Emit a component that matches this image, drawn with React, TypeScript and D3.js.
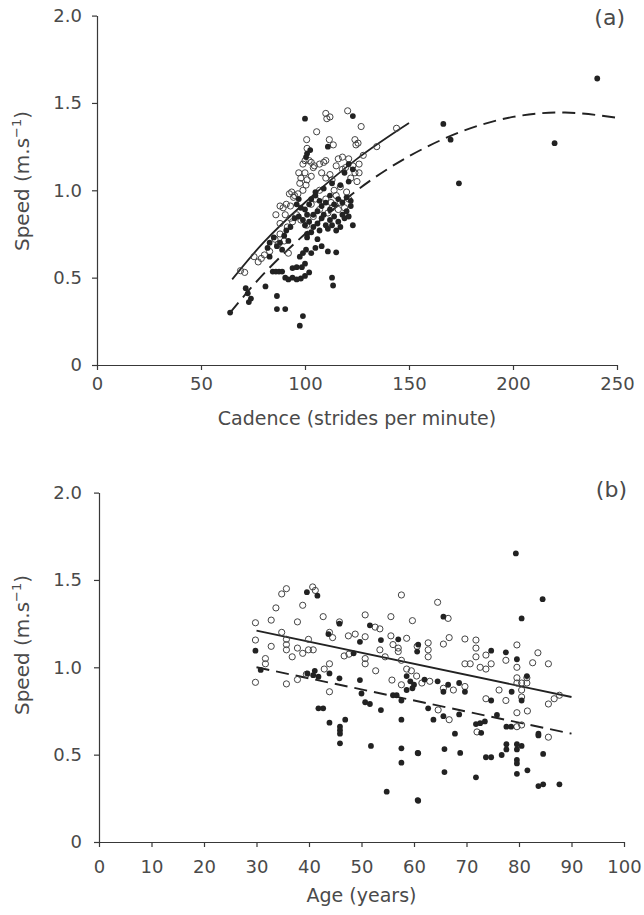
import React, { useEffect, useRef } from 'react';
import * as d3 from 'd3';

// tick values
const cadenceTicks = [0, 50, 100, 150, 200, 250];
const ageTicks = [0, 10, 20, 30, 40, 50, 60, 70, 80, 90, 100];
const speedTicks = [0, 0.5, 1.0, 1.5, 2.0];

// panel (a) points: [cadence, speed]
const cadenceOpen: [number, number][] = [
  [110, 1.44], [112, 1.42], [110.5, 1.41], [120.5, 1.455], [127, 1.365], [105.6, 1.335], [144, 1.355],
  [100.8, 1.29], [111.7, 1.29], [113.6, 1.26], [124, 1.29], [125.5, 1.27], [124.5, 1.26], [134.5, 1.25], [128, 1.2],
  [101, 1.24], [100, 1.17], [103, 1.16], [104, 1.13], [99, 1.15], [102, 1.17], [104.5, 1.14], [107, 1.15], [109, 1.16], [110, 1.17],
  [97, 1.1], [100, 1.1], [98, 1.07], [101, 1.06], [97.5, 1.04], [100.5, 1.03], [99, 1.0], [103, 1.08],
  [108, 1.1], [110, 1.07], [112, 1.09], [113, 1.06], [115, 1.14], [118, 1.12], [119.5, 1.13], [123, 1.14], [124, 1.1],
  [122, 1.07], [125, 1.05], [126, 1.15], [126, 1.1], [116, 1.18], [118, 1.19], [121, 1.18],
  [93.6, 0.99], [95, 0.97], [96.6, 0.98], [94.5, 0.96], [92.5, 0.98],
  [88, 0.91], [89.5, 0.9], [91, 0.92], [93, 0.91], [86, 0.86], [90.5, 0.86], [93, 0.84], [88, 0.81], [91.5, 0.79], [94, 0.82], [100.8, 0.8],
  [85.6, 0.72], [88, 0.75], [90, 0.71], [87, 0.69], [83, 0.65], [79, 0.61], [80.5, 0.63], [77.5, 0.59], [75.5, 0.62], [71, 0.53], [69, 0.54], [92, 0.64],
  [110, 0.95], [112.5, 0.93], [115, 0.97], [114, 1.0], [117, 0.93], [116, 0.89], [113, 0.9], [111, 0.87], [107, 0.89], [104, 0.85],
  [117, 1.02], [120, 0.99], [121, 0.95], [119, 0.9], [105, 0.95], [107, 1.0], [96, 0.86], [98, 0.83], [103, 0.92],
];

const cadenceFilled: [number, number][] = [
  [240.5, 1.64], [166.5, 1.38], [170, 1.29], [174, 1.04], [220, 1.27],
  [100, 1.41], [123, 1.425], [111, 1.25], [102.5, 1.23], [101, 1.21], [100.5, 1.19], [121, 1.15], [122, 0.94], [123, 0.8],
  [64, 0.3], [71.5, 0.44], [72.5, 0.41], [74, 0.38], [73, 0.36], [81, 0.45], [86.5, 0.395], [86.5, 0.32], [90.5, 0.32],
  [99, 0.28], [97.5, 0.225], [113, 0.5], [113.5, 0.455],
  [83, 0.62], [84.5, 0.535], [86, 0.535], [87.5, 0.535], [89, 0.535], [90.5, 0.5], [92, 0.49], [94, 0.5], [96, 0.49],
  [98, 0.495], [100, 0.51], [102, 0.53], [94, 0.555], [96, 0.56], [98.5, 0.56], [100, 0.58],
  [82, 0.67], [83, 0.7], [85, 0.73], [86.5, 0.68], [88, 0.7], [90, 0.74], [91, 0.77], [93, 0.79], [89, 0.66], [92, 0.71],
  [97.5, 0.62], [99, 0.64], [100.5, 0.66], [103, 0.64], [105, 0.67], [106, 0.72], [108, 0.68], [111, 0.65], [115, 0.645], [101, 0.73], [101, 0.75],
  [100, 0.8], [102, 0.82], [104, 0.79], [106, 0.81], [108, 0.84], [110, 0.8], [112, 0.83], [114, 0.85], [116, 0.82], [118, 0.86],
  [120, 0.88], [104, 0.86], [106, 0.88], [108, 0.91], [110, 0.93], [112, 0.89], [114, 0.92], [116, 0.95], [118, 0.93], [120, 0.96],
  [122, 0.91], [100, 0.89], [102, 0.92], [98, 0.9], [96, 0.92], [97, 0.95], [103, 0.95], [105, 0.97], [107, 0.94], [109, 0.86],
  [111, 0.78], [113, 0.8], [115, 0.77], [117, 0.79], [119, 0.84], [121, 0.85], [103, 0.76], [107, 0.77], [95, 0.84], [97, 0.85],
  [99, 0.83], [101, 0.86], [105, 0.99], [112, 0.97], [117, 1.03], [121, 1.05], [119, 1.1], [123, 1.12], [113, 1.04], [109, 1.01],
];

// fitted curves
const cadenceFitSolid: [number, number][] = [[65, 0.49], [80, 0.7], [100, 0.93], [125, 1.18], [150, 1.385]];
const cadenceFitDashed: [number, number][] = [
  [64, 0.3], [80, 0.52], [100, 0.75], [125, 1.0], [150, 1.195], [175, 1.335], [200, 1.42], [225, 1.445], [250, 1.415],
];

// panel (b) points: [age, speed]
const ageOpen: [number, number][] = [
  [29.8, 1.255], [29.8, 1.156], [29.8, 0.914], [31.7, 1.05], [31.7, 1.02], [32.8, 1.27], [32.8, 1.12], [33.7, 1.34],
  [34.8, 1.42], [35.7, 1.45], [34.8, 1.2], [35.7, 1.16], [35.7, 1.13], [35.7, 1.1], [35.7, 0.905], [36.8, 1.06],
  [37.8, 1.26], [37.8, 1.11], [38.8, 1.355], [38.8, 1.08], [39.9, 1.1], [40.8, 1.1], [39.9, 1.16], [40.7, 1.46],
  [41.2, 1.44], [37.8, 0.93], [39.5, 0.96], [42.7, 1.29], [43.9, 1.2], [43.9, 1.02], [42.9, 0.99], [43.9, 0.86],
  [45.8, 1.26], [46.7, 1.065], [47.6, 1.075], [48.8, 1.19], [50.7, 1.3], [50.7, 1.175], [50.7, 1.05], [50.7, 1.02],
  [52.6, 1.23], [53.5, 1.22], [52.7, 0.98], [55.6, 1.29], [55.6, 1.18], [56, 1.13], [57, 1.11], [57, 1.09],
  [55.8, 0.927], [57.6, 1.414], [57.6, 0.9], [57.6, 1.04], [58.6, 0.99], [58.6, 1.166], [59.7, 1.267], [60.6, 1.12],
  [62.7, 1.14], [62.7, 1.1], [62.7, 1.06], [64.5, 1.372], [66.5, 1.28], [65.6, 1.133], [66.7, 1.17], [69.7, 1.162],
  [71.8, 1.156], [71.8, 1.11], [71.8, 1.06], [69.7, 1.02], [70.7, 1.02], [72.6, 1.0], [73.7, 0.99], [73.7, 1.07],
  [74.7, 1.02], [77.5, 1.04], [79.6, 1.128], [79.6, 1.0], [79.6, 0.94], [81.5, 0.94], [79.6, 0.91], [80.5, 0.91],
  [81.5, 0.91], [80.5, 0.87], [80.5, 0.83], [82.6, 1.026], [83.6, 1.083], [85.6, 1.02], [85.6, 0.79], [86.7, 0.82],
  [87.7, 0.84], [79.6, 0.74], [81.6, 0.75], [79.6, 0.66], [80.5, 0.67], [85.6, 0.6], [72, 0.63], [64.6, 0.756],
  [61.5, 0.91], [63, 0.92], [65.6, 0.88], [67.5, 0.87], [69.7, 0.89], [73.7, 0.82], [76.2, 0.87], [77.5, 0.81],
  [66.7, 0.7], [60.5, 0.95], [59.5, 0.98], [53.5, 1.1], [47.5, 1.18], [44.5, 1.17], [54.5, 1.06],
];

const ageFilled: [number, number][] = [
  [79.4, 1.652], [84.5, 1.39], [80.5, 1.28], [65.6, 1.29], [39.6, 1.43], [41.6, 1.41], [29.8, 1.095], [30.8, 0.985],
  [39.7, 0.965], [40.8, 0.955], [41.8, 0.946], [41.1, 0.98], [43.9, 0.965], [45.8, 0.937], [45.8, 1.25], [43.7, 1.19],
  [41.8, 0.765], [42.7, 0.765], [43.9, 0.683], [46.9, 0.7], [45.9, 0.66], [45.9, 0.64], [45.9, 0.62], [45.9, 0.565],
  [49.7, 1.146], [49.7, 0.927], [50, 0.85], [50.7, 0.8], [51.6, 0.79], [51.6, 1.24], [53.7, 1.156], [53.7, 0.755],
  [51.8, 0.55], [54.8, 0.288], [56.7, 0.84], [57.6, 0.7], [57.6, 0.536], [57.6, 0.454], [57.6, 0.81], [58.6, 0.95],
  [59.3, 0.92], [60, 0.9], [60.7, 0.51], [60.7, 0.24], [60.8, 1.13], [60.6, 1.09], [58.6, 0.87], [59.7, 0.88],
  [62.7, 0.765], [63.7, 0.7], [65.6, 0.72], [68.6, 0.73], [71.8, 0.675], [72.6, 0.68], [73.5, 0.69], [72.8, 0.625],
  [75.8, 0.727], [67.8, 0.62], [60.8, 0.508], [65.8, 0.532], [68.8, 0.51], [73.7, 0.485], [74.7, 0.485], [76.7, 0.498],
  [77.6, 0.56], [77.6, 0.53], [79.6, 0.56], [79.6, 0.53], [80.5, 0.55], [79.6, 0.47], [79.6, 0.45], [79.6, 0.39],
  [81.6, 0.41], [84.6, 0.504], [65.8, 0.4], [71.8, 0.37], [83.7, 0.32], [84.6, 0.33], [87.7, 0.33], [60.8, 0.236],
  [77.5, 1.086], [79.6, 1.046], [74.7, 1.095], [78.6, 0.86], [80.5, 0.81], [81.5, 0.95], [77.6, 0.66], [78.5, 0.66],
  [83.7, 0.61], [83.7, 0.62], [64.5, 0.92], [66.5, 0.9], [68.6, 0.91], [65.6, 0.86], [62, 0.93], [74.7, 0.81],
  [69.7, 0.86], [57, 1.16], [48.5, 1.08], [56, 0.84],
];

const ageFitSolid: [number, number][] = [[30, 1.21], [90, 0.83]];
const ageFitDashed: [number, number][] = [[30, 1.0], [90, 0.62]];

const FONT = 'DejaVu Sans, Verdana, sans-serif';
const INK = '#222';
const TEXT = '#4a4a4a';

type Panel = {
  xMax: number;
  xTicks: number[];
  left: number;
  right: number;
  top: number;
  bottom: number;
  xPad: number;
  yPad: number;
  xTitle: string;
  xTitleY: number;
  yTitleX: number;
  yTitleY: number;
  tag: string;
  tagX: number;
  tagY: number;
  open: [number, number][];
  filled: [number, number][];
  solid: [number, number][];
  dashed: [number, number][];
  curve: d3.CurveFactory;
};

const panels: Panel[] = [
  {
    xMax: 250, xTicks: cadenceTicks, left: 97, right: 617, top: 15.6, bottom: 365,
    xPad: 7, yPad: 10, xTitle: 'Cadence (strides per minute)', xTitleY: 425,
    yTitleX: 29, yTitleY: 181, tag: '(a)', tagX: 625, tagY: 25,
    open: cadenceOpen, filled: cadenceFilled, solid: cadenceFitSolid, dashed: cadenceFitDashed,
    curve: d3.curveNatural,
  },
  {
    xMax: 100, xTicks: ageTicks, left: 99, right: 624, top: 492.6, bottom: 842,
    xPad: 13, yPad: 12, xTitle: 'Age (years)', xTitleY: 902,
    yTitleX: 29, yTitleY: 645, tag: '(b)', tagX: 627, tagY: 497,
    open: ageOpen, filled: ageFilled, solid: ageFitSolid, dashed: ageFitDashed,
    curve: d3.curveLinear,
  },
];

const App = () => {
  const ref = useRef<SVGSVGElement>(null);

  useEffect(() => {
    const svg = d3.select(ref.current);
    svg.selectAll('*').remove();

    panels.forEach((p) => {
      const x = d3.scaleLinear().domain([0, p.xMax]).range([p.left, p.right]);
      const y = d3.scaleLinear().domain([0, 2]).range([p.bottom, p.top]);
      const g = svg.append('g');

      // x axis
      const xa = g
        .append('g')
        .attr('transform', `translate(0,${p.bottom})`)
        .call(
          d3.axisBottom(x).tickValues(p.xTicks).tickSize(5).tickSizeOuter(0).tickPadding(p.xPad)
            .tickFormat((d) => String(d))
        );

      // y axis
      const ya = g
        .append('g')
        .attr('transform', `translate(${p.left},0)`)
        .call(
          d3.axisLeft(y).tickValues(speedTicks).tickSize(5).tickSizeOuter(0).tickPadding(p.yPad)
            .tickFormat((d) => (+d === 0 ? '0' : (+d).toFixed(1)))
        );

      [xa, ya].forEach((a) => {
        a.attr('font-family', FONT).attr('font-size', 18);
        a.selectAll('path, line').attr('stroke', '#383838').attr('stroke-width', 1.2);
        a.selectAll('text').attr('fill', TEXT);
      });

      // fitted lines
      const line = d3.line<[number, number]>().x((d) => x(d[0])).y((d) => y(d[1])).curve(p.curve);
      g.append('path').datum(p.solid).attr('fill', 'none').attr('stroke', INK)
        .attr('stroke-width', 1.8).attr('d', line);
      g.append('path').datum(p.dashed).attr('fill', 'none').attr('stroke', INK)
        .attr('stroke-width', 1.9).attr('stroke-dasharray', '13,7').attr('d', line);

      // open circles
      g.append('g').selectAll('circle').data(p.open).enter().append('circle')
        .attr('cx', (d) => x(d[0])).attr('cy', (d) => y(d[1])).attr('r', 3.1)
        .attr('fill', 'none').attr('stroke', '#444').attr('stroke-width', 1);

      // filled circles
      g.append('g').selectAll('circle').data(p.filled).enter().append('circle')
        .attr('cx', (d) => x(d[0])).attr('cy', (d) => y(d[1])).attr('r', 2.9)
        .attr('fill', INK);

      // x title
      g.append('text').attr('x', (p.left + p.right) / 2).attr('y', p.xTitleY)
        .attr('text-anchor', 'middle').attr('font-family', FONT).attr('font-size', 19)
        .attr('fill', TEXT).text(p.xTitle);

      // y title with superscript
      const yt = g.append('text')
        .attr('transform', `translate(${p.yTitleX},${p.yTitleY}) rotate(-90)`)
        .attr('text-anchor', 'middle').attr('font-family', FONT).attr('font-size', 20)
        .attr('fill', TEXT);
      yt.append('tspan').text('Speed (m.s');
      yt.append('tspan').attr('dy', -8).attr('font-size', 13).text('−1');
      yt.append('tspan').attr('dy', 8).text(')');

      // panel tag
      g.append('text').attr('x', p.tagX).attr('y', p.tagY).attr('text-anchor', 'end')
        .attr('font-family', FONT).attr('font-size', 22).attr('fill', TEXT).text(p.tag);
    });
  }, []);

  return (
    <svg
      ref={ref}
      width={644}
      height={915}
      style={{ position: 'absolute', left: 0, top: 0, background: '#fff' }}
    />
  );
};

export default App;
